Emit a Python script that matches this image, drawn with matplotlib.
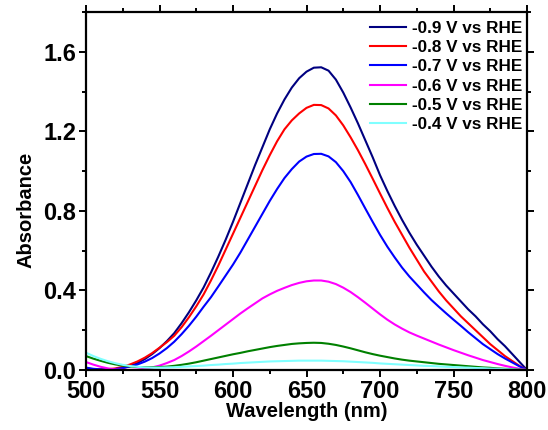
import matplotlib
matplotlib.use("Agg")
import matplotlib.pyplot as plt
from matplotlib.ticker import MultipleLocator, FormatStrFormatter

plt.rcParams['font.family'] = ['Liberation Sans', 'DejaVu Sans']
plt.rcParams['font.weight'] = 'bold'

wavelength = list(range(500, 805, 5))

a_09 = [.006, .003, .002, .002, .004, .010, .020, .035, .055, .080,
        .110, .145, .185, .235, .290, .350, .415, .490, .570, .655,
        .745, .840, .935, 1.030, 1.120, 1.210, 1.290, 1.360, 1.420, 1.467,
        1.500, 1.520, 1.522, 1.505, 1.460, 1.395, 1.320, 1.240, 1.155, 1.070,
        .980, .900, .825, .755, .690, .630, .575, .520, .470, .425,
        .385, .345, .305, .270, .230, .195, .155, .120, .080, .040,
        0.0]
a_08 = [.008, .004, .003, .004, .008, .016, .028, .043, .062, .085,
        .112, .140, .172, .215, .265, .320, .380, .450, .525, .605,
        .685, .765, .845, .925, 1.005, 1.080, 1.150, 1.210, 1.255, 1.290,
        1.318, 1.333, 1.332, 1.315, 1.280, 1.230, 1.170, 1.105, 1.035, .962,
        .888, .815, .745, .680, .615, .555, .495, .445, .395, .350,
        .310, .270, .235, .200, .165, .130, .100, .070, .045, .020,
        0.0]
a_07 = [.012, .006, .003, .003, .005, .010, .018, .028, .042, .060,
        .083, .110, .142, .180, .222, .268, .318, .366, .420, .475,
        .530, .590, .655, .720, .785, .850, .910, .965, 1.010, 1.048,
        1.073, 1.086, 1.087, 1.074, 1.045, 1.000, .945, .880, .812, .745,
        .680, .620, .566, .515, .470, .430, .390, .352, .318, .285,
        .253, .222, .190, .160, .130, .105, .080, .058, .038, .018,
        0.0]
a_06 = [.040, .027, .016, .008, .003, .001, .000, .002, .006, .013,
        .022, .035, .050, .070, .093, .118, .145, .172, .200, .228,
        .256, .284, .310, .335, .360, .380, .398, .413, .427, .438,
        .446, .450, .450, .444, .432, .414, .392, .366, .338, .309,
        .280, .253, .229, .208, .189, .173, .158, .143, .128, .114,
        .100, .087, .074, .062, .050, .040, .030, .021, .013, .006,
        0.0]
a_05 = [.070, .057, .046, .036, .028, .022, .018, .015, .014, .014,
        .015, .017, .021, .026, .032, .039, .047, .055, .063, .071,
        .079, .086, .094, .101, .108, .115, .121, .126, .131, .134,
        .136, .137, .136, .132, .126, .118, .109, .099, .089, .080,
        .072, .065, .058, .052, .047, .043, .039, .035, .031, .028,
        .025, .022, .019, .016, .013, .011, .008, .006, .004, .002,
        0.0]
a_04 = [.087, .070, .056, .044, .034, .026, .020, .016, .013, .012,
        .012, .013, .014, .016, .018, .020, .022, .025, .027, .030,
        .032, .035, .037, .039, .041, .043, .044, .045, .046, .047,
        .047, .047, .047, .046, .045, .044, .042, .040, .038, .036,
        .033, .031, .029, .027, .025, .023, .021, .020, .018, .016,
        .015, .013, .012, .010, .009, .007, .006, .004, .003, .001,
        0.0]

labels = ['-0.9 V vs RHE', '-0.8 V vs RHE', '-0.7 V vs RHE',
          '-0.6 V vs RHE', '-0.5 V vs RHE', '-0.4 V vs RHE']
series = [a_09, a_08, a_07, a_06, a_05, a_04]
colors = ['#000080', '#FF0000', '#0000FF', '#FF00FF', '#008000', '#80FFFF']

fig = plt.figure(figsize=(5.48, 4.30), dpi=100)
ax = fig.add_axes([86/548, 60/430, 441/548, 358/430])

for y, lab, c in zip(series, labels, colors):
    ax.plot(wavelength, y, color=c, lw=1.5, label=lab, solid_joinstyle='round')

ax.set_xlim(500, 800)
ax.set_ylim(0, 1.8)
ax.xaxis.set_major_locator(MultipleLocator(50))
ax.xaxis.set_minor_locator(MultipleLocator(25))
ax.yaxis.set_major_locator(MultipleLocator(0.4))
ax.yaxis.set_minor_locator(MultipleLocator(0.2))
ax.yaxis.set_major_formatter(FormatStrFormatter('%.1f'))

for s in ax.spines.values():
    s.set_linewidth(1.6)
ax.tick_params(which='both', direction='out', top=True, right=True, width=1.4,
               labeltop=False, labelright=False)
ax.tick_params(which='major', length=5, labelsize=17, pad=2)
ax.tick_params(which='minor', length=3)
for lbl in ax.get_xticklabels() + ax.get_yticklabels():
    lbl.set_fontweight('bold')

ax.set_xlabel('Wavelength (nm)', fontsize=14.5, fontweight='bold')
ax.set_ylabel('Absorbance', fontsize=14.5, fontweight='bold')
ax.xaxis.set_label_coords(0.501, -0.088)
ax.yaxis.set_label_coords(-0.115, 0.447)

leg = ax.legend(loc='upper right', bbox_to_anchor=(1.009, 1.0), frameon=False,
                fontsize=12.3, handlelength=2.1, handletextpad=0.35, labelspacing=0.25,
                borderpad=0.4, borderaxespad=0.12)
for t in leg.get_texts():
    t.set_fontweight('bold')

fig.savefig('out.png', dpi=100)
